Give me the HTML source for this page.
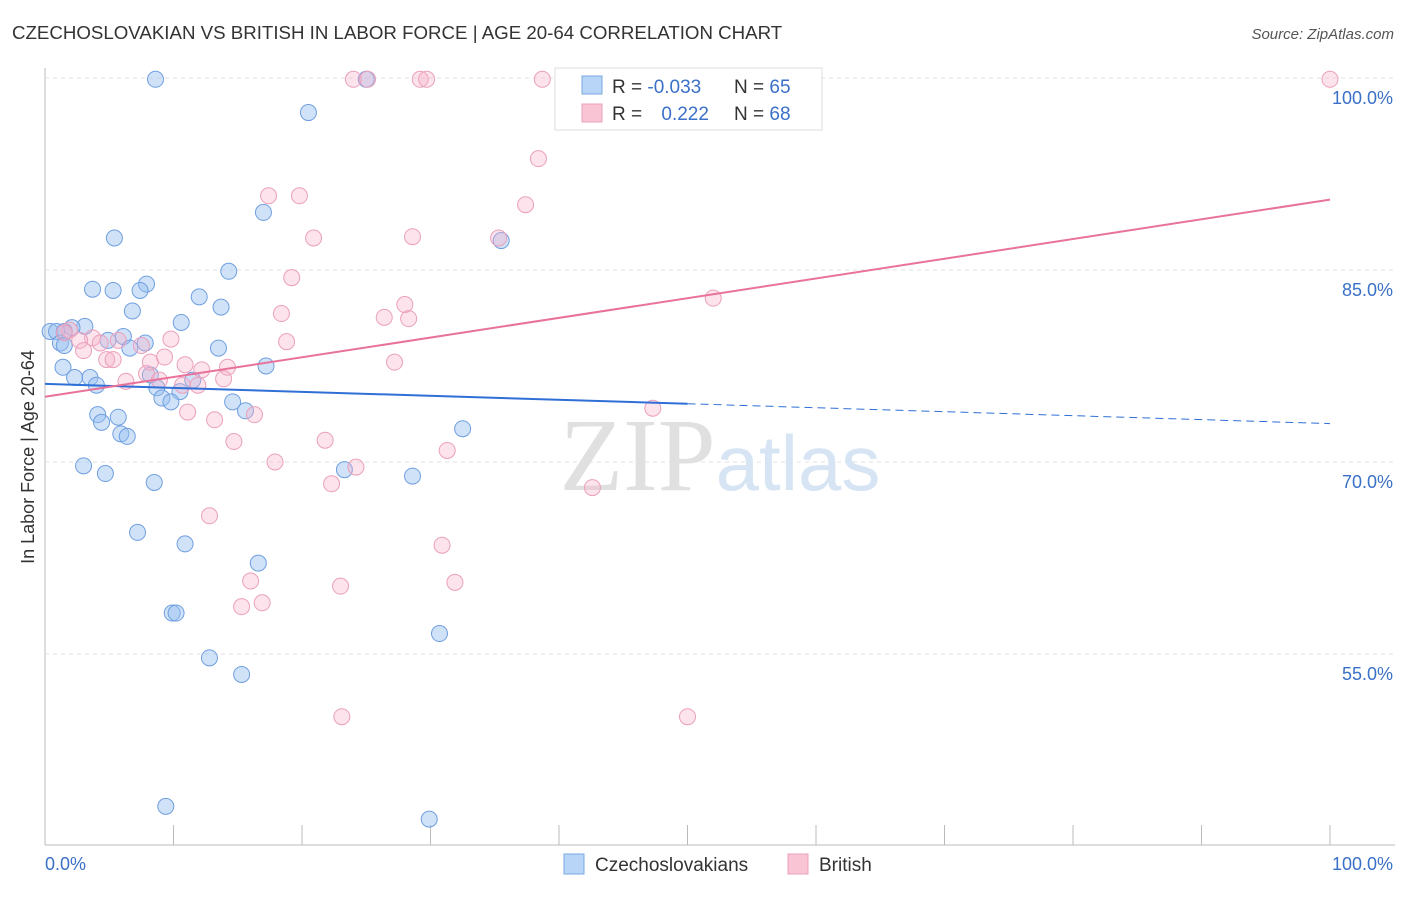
<!DOCTYPE html>
<html><head><meta charset="utf-8"><style>
body{margin:0;background:#fff;font-family:"Liberation Sans",sans-serif}
svg text{font-family:"Liberation Sans",sans-serif}
</style></head><body>
<svg id="chart" width="1406" height="892">
<text x="12" y="39" font-size="18.7" fill="#333">CZECHOSLOVAKIAN VS BRITISH IN LABOR FORCE | AGE 20-64 CORRELATION CHART</text>
<text x="1394" y="39" font-size="15" fill="#555" font-style="italic" text-anchor="end">Source: ZipAtlas.com</text>
<g id="grid"></g>
<text x="720" y="490" font-size="104" fill="#e4e4e4" text-anchor="middle" font-family="Liberation Serif"><tspan fill="#e0e0e0" font-family="Liberation Serif">ZIP</tspan><tspan fill="#d6e4f4" font-family="Liberation Sans" font-size="78">atlas</tspan></text>
<text x="34" y="457" font-size="18" fill="#333" text-anchor="middle" transform="rotate(-90 34 457)">In Labor Force | Age 20-64</text>
<g id="pts"></g>
<g id="lines"></g>
<g>
<rect x="555" y="68" width="267" height="62" fill="#fff" stroke="#ddd"/>
<rect x="582" y="76" width="20" height="18" fill="#b8d4f6" stroke="#7aa8e0"/>
<rect x="582" y="104" width="20" height="18" fill="#f9c4d4" stroke="#eca0ba"/>
<text x="612" y="93" font-size="19" fill="#333">R = <tspan fill="#3a70c8">-0.033</tspan></text>
<text x="734" y="93" font-size="19" fill="#333">N = <tspan fill="#3a70c8">65</tspan></text>
<text x="612" y="120" font-size="19" fill="#333">R = <tspan fill="#3a70c8" dx="14">0.222</tspan></text>
<text x="734" y="120" font-size="19" fill="#333">N = <tspan fill="#3a70c8">68</tspan></text>
</g>
<g>
<rect x="564" y="854" width="20" height="20" fill="#b8d4f6" stroke="#7aa8e0"/>
<text x="595" y="871" font-size="19" fill="#333">Czechoslovakians</text>
<rect x="788" y="854" width="20" height="20" fill="#f9c4d4" stroke="#eca0ba"/>
<text x="819" y="871" font-size="19" fill="#333">British</text>
</g>
</svg>
<script>
const yTicks=[55,70,85,100];
const xTickLabels=["0.0%","100.0%"];
const blueX=[8.6,25,20.5,17,5.4,35.5,14.3,3.7,7.9,5.3,7.4,12,13.7,6.8,10.6,3.1,2.1,0.4,0.9,1.5,6.1,4.9,7.8,1.2,6.6,13.5,1.5,17.2,1.4,8.2,3.5,2.3,4,11.5,8.7,10.5,9.1,9.8,14.6,15.6,4.1,5.7,4.4,5.9,6.4,32.5,3,23.3,28.6,4.7,8.5,7.2,10.9,16.6,9.9,10.2,30.7,12.8,15.3,9.4,29.9];
const blueY=[99.9,99.9,97.3,89.5,87.5,87.3,84.9,83.5,83.9,83.4,83.4,82.9,82.1,81.8,80.9,80.6,80.5,80.2,80.2,80.2,79.8,79.5,79.3,79.3,78.9,78.9,79.1,77.5,77.4,76.8,76.6,76.6,76,76.4,75.8,75.5,75,74.7,74.7,74,73.7,73.5,73.1,72.2,72,72.6,69.7,69.4,68.9,69.1,68.4,64.5,63.6,62.1,58.2,58.2,56.6,54.7,53.4,43.1,42.1];
const pinkX=[24,25.1,29.2,29.7,38.7,47.9,100,38.4,37.4,17.4,19.8,20.9,28.6,35.3,19.2,52,28,26.4,28.3,18.4,18.8,1.9,1.5,3.7,2.7,5.7,9.8,7.5,4.3,3,4.8,5.3,8.2,9.3,10.9,12.2,14.2,27.2,7.9,6.3,8.9,10.7,11.9,13.9,47.3,11.1,13.2,16.3,14.7,21.8,17.9,31.3,24.2,22.3,42.6,12.8,30.9,16,31.9,23,15.3,16.9,23.1,50.0];
const pinkY=[99.9,99.9,99.9,99.9,99.9,99.9,99.9,93.7,90.1,90.8,90.8,87.5,87.6,87.5,84.4,82.8,82.3,81.3,81.2,81.6,79.4,80.3,80.1,79.7,79.5,79.5,79.6,79.1,79.3,78.7,78,78,77.8,78.2,77.6,77.2,77.4,77.8,76.9,76.3,76.4,76,76,76.5,74.2,73.9,73.3,73.7,71.6,71.7,70,70.9,69.6,68.3,68,65.8,63.5,60.7,60.6,60.3,58.7,59,50.1,50.1];
const X=v=>45+v*12.85, Y=v=>78+(100-v)*12.8;
const NS="http://www.w3.org/2000/svg";
const mk=(t,a,p)=>{const e=document.createElementNS(NS,t);for(const k in a)e.setAttribute(k,a[k]);p.appendChild(e);return e;};
const grid=document.getElementById('grid');
mk('line',{x1:45,y1:68,x2:45,y2:845,stroke:'#bbb'},grid);
mk('line',{x1:45,y1:845,x2:1395,y2:845,stroke:'#bbb'},grid);
for(let i=0;i<=10;i++){const l=mk('line',{x1:X(i*10),y1:825,x2:X(i*10),y2:845,stroke:'#bbb'},grid);

}
yTicks.forEach(v=>{const l=mk('line',{x1:45,y1:Y(v),x2:1395,y2:Y(v),stroke:'#e2e2e2','stroke-dasharray':'4,4'},grid);


const t=mk('text',{x:1393,y:Y(v)+26,'font-size':18,fill:'#3a70c8','text-anchor':'end'},grid);t.textContent=v.toFixed(1)+'%';

});
[[45,'start',xTickLabels[0]],[1393,'end',xTickLabels[1]]].forEach(([x,a,s])=>{const t=mk('text',{x:x,y:870,'font-size':18,fill:'#3a70c8','text-anchor':a},grid);t.textContent=s;

});
const pts=document.getElementById('pts');
blueX.forEach((v,i)=>{const c=mk('circle',{cx:X(v),cy:Y(blueY[i]),r:8,fill:'rgba(150,190,240,0.45)',stroke:'#6f9fe0','stroke-width':1},pts);

});
pinkX.forEach((v,i)=>{const c=mk('circle',{cx:X(v),cy:Y(pinkY[i]),r:8,fill:'rgba(245,175,200,0.35)',stroke:'#eba0bc','stroke-width':1},pts);

});
const lines=document.getElementById('lines');
const bl=v=>76.1-v*0.031, pl=v=>75.1+v*0.154;
let e=mk('line',{x1:X(0),y1:Y(bl(0)),x2:X(50),y2:Y(bl(50)),stroke:'#2f6fd6','stroke-width':2},lines);


e=mk('line',{x1:X(50),y1:Y(bl(50)),x2:X(100),y2:Y(bl(100)),stroke:'#2f6fd6','stroke-width':1,'stroke-dasharray':'8,5'},lines);


e=mk('line',{x1:X(0),y1:Y(pl(0)),x2:X(100),y2:Y(pl(100)),stroke:'#e8729a','stroke-width':2},lines);


</script>
</body></html>
